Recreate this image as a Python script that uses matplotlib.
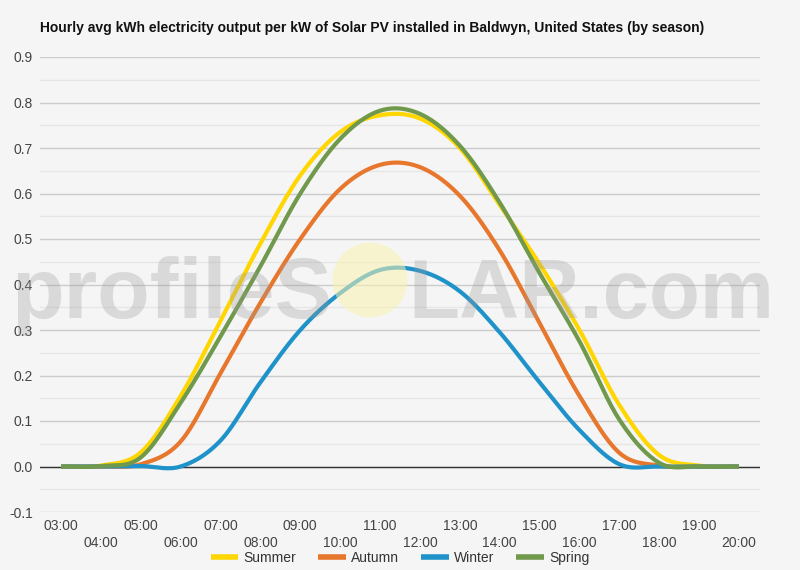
import numpy as np
import matplotlib
matplotlib.use("Agg")
import matplotlib.pyplot as plt
from matplotlib.patches import Circle

plt.rcParams['font.family'] = ['Liberation Sans', 'DejaVu Sans']

# hourly values
hours = [3, 4, 5, 6, 7, 8, 9, 10, 11, 12, 13, 14, 15, 16, 17, 18, 19, 20]
hour_labels = [f"{h:02d}:00" for h in hours]
summer = [0.0, 0.002, 0.031, 0.155, 0.32, 0.49, 0.64, 0.735, 0.772, 0.765, 0.70, 0.575, 0.445, 0.30, 0.135, 0.025, 0.002, 0.0]
autumn = [0.0, 0.0, 0.005, 0.055, 0.205, 0.36, 0.50, 0.61, 0.663, 0.658, 0.595, 0.475, 0.315, 0.155, 0.03, 0.002, 0.0, 0.0]
winter = [0.0, 0.0, 0.001, 0.0, 0.057, 0.185, 0.30, 0.381, 0.432, 0.43, 0.385, 0.295, 0.185, 0.08, 0.005, 0.0, 0.0, 0.0]
spring = [0.0, 0.001, 0.02, 0.14, 0.286, 0.44, 0.60, 0.72, 0.782, 0.775, 0.705, 0.58, 0.425, 0.275, 0.103, 0.008, 0.0, 0.0]

series = [("Summer", summer, "#FFD600"),
          ("Autumn", autumn, "#E8772E"),
          ("Winter", winter, "#1F93C9"),
          ("Spring", spring, "#70994B")]


# catmull-rom smoothing, like the "function" curve type of the original
def smooth(x, y, n=30):
    x = np.asarray(x, float)
    y = np.asarray(y, float)
    px = np.concatenate([[2 * x[0] - x[1]], x, [2 * x[-1] - x[-2]]])
    py = np.concatenate([[y[0]], y, [y[-1]]])
    xs, ys = [], []
    t = np.linspace(0, 1, n, endpoint=False)
    for i in range(1, len(px) - 2):
        p0, p1, p2, p3 = py[i - 1], py[i], py[i + 1], py[i + 2]
        m1 = (p2 - p0) / 2
        m2 = (p3 - p1) / 2
        h00 = 2 * t**3 - 3 * t**2 + 1
        h10 = t**3 - 2 * t**2 + t
        h01 = -2 * t**3 + 3 * t**2
        h11 = t**3 - t**2
        xs.append(px[i] + t * (px[i + 1] - px[i]))
        ys.append(h00 * p1 + h10 * m1 + h01 * p2 + h11 * m2)
    xs.append([x[-1]])
    ys.append([y[-1]])
    return np.concatenate(xs), np.concatenate(ys)


bg = "#f5f5f5"
fig = plt.figure(figsize=(8, 5.7), dpi=100, facecolor=bg)
ax = fig.add_axes([40 / 800, 1 - 512 / 570, 720 / 800, 455 / 570], facecolor=bg)

for name, vals, col in series:
    sx, sy = smooth(hours, vals)
    ax.plot(sx, sy, color=col, lw=3, label=name, solid_capstyle='butt', zorder=3)

ax.axhline(0, color="#333333", lw=1, zorder=2)

ax.set_ylim(-0.1, 0.9)
pad = 21 / 39.88
ax.set_xlim(3 - pad, 20 + pad)
yt = np.round(np.arange(-0.1, 0.91, 0.1), 1)
ax.set_yticks(yt)
ax.set_yticklabels([f"{v:.1f}" for v in yt])
ax.set_yticks(np.arange(-0.05, 0.9, 0.1), minor=True)
ax.grid(True, which='major', axis='y', color="#cccccc", lw=1, zorder=0)
ax.grid(True, which='minor', axis='y', color="#e6e6e6", lw=1, zorder=0)

ax.set_xticks(hours[::2])
ax.set_xticklabels(hour_labels[::2])
ax.set_xticks(hours[1::2], minor=True)
ax.set_xticklabels(hour_labels[1::2], minor=True)
ax.tick_params(axis='x', which='major', length=0, pad=5, labelsize=10, labelcolor="#444444")
ax.tick_params(axis='x', which='minor', length=0, pad=17.5, labelsize=10, labelcolor="#444444")
ax.tick_params(axis='y', which='both', length=0, pad=5, labelsize=10, labelcolor="#444444")
for s in ax.spines.values():
    s.set_visible(False)

fig.text(40 / 800, 1 - 28 / 570,
         "Hourly avg kWh electricity output per kW of Solar PV installed in Baldwyn, United States (by season)",
         fontsize=10, fontweight='bold', va='center', ha='left', color="#111111")

leg = fig.legend(loc='center', bbox_to_anchor=(400 / 800, 1 - 558 / 570), ncol=4, frameon=False,
                 fontsize=10, handlelength=2.0, handletextpad=0.35, columnspacing=1.6,
                 labelcolor="#333333")
for line in leg.get_lines():
    line.set_linewidth(4)

# watermark
wm = dict(color="#999999", alpha=0.3, va='baseline', zorder=10, fontweight='bold')
fig.text(332 / 800, 1 - 318 / 570, "profileS", ha='right', fontsize=62, **wm)
fig.text(408 / 800, 1 - 318 / 570, "LAR.com", ha='left', fontsize=60, **wm)
sun = Circle((3.70, 5.7 - 2.80), 0.375, transform=fig.dpi_scale_trans,
             facecolor="#fbf3b0", alpha=0.55, edgecolor='none', zorder=9)
fig.patches.append(sun)

fig.savefig("out.png", dpi=100, facecolor=bg)
